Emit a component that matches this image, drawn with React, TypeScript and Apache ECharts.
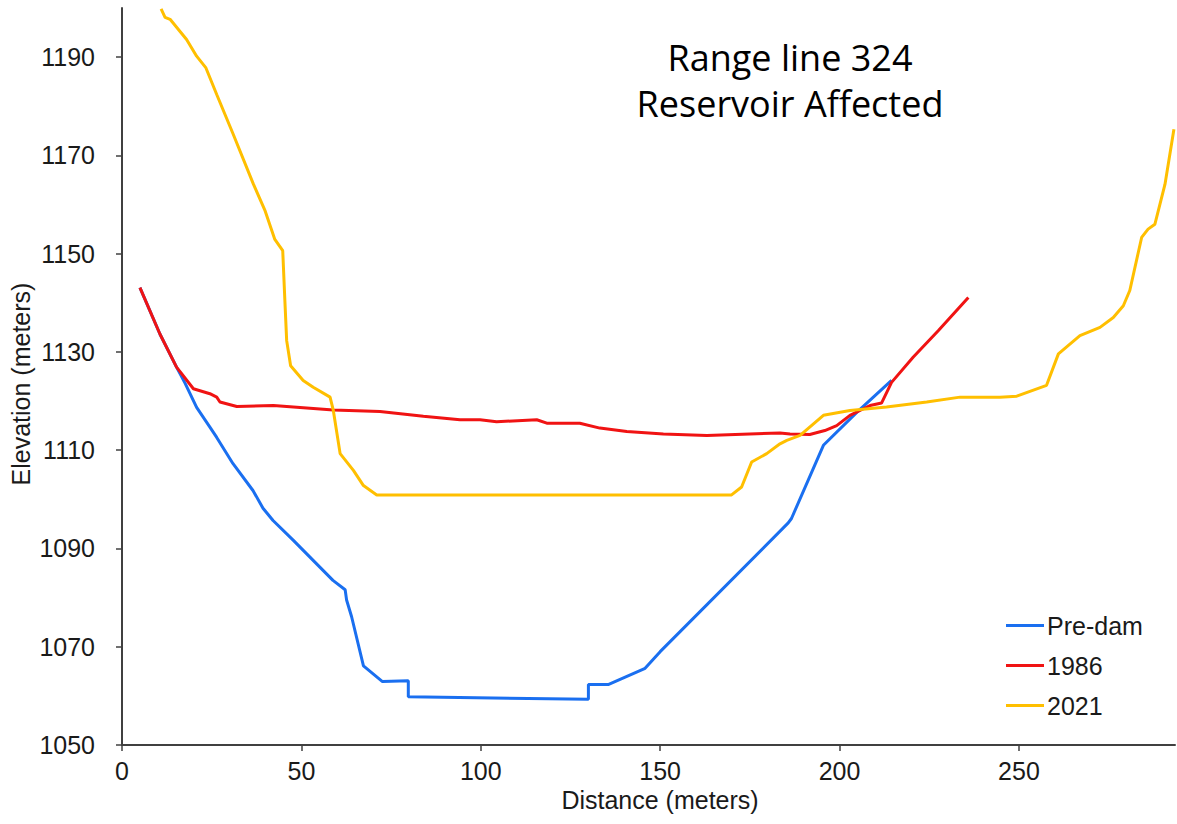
import React, { useEffect, useRef } from "react";
import * as echarts from "echarts";

// ---- Data ----
const seriesNames = ["Pre-dam", "1986", "2021"];
const seriesColors = ["#1a6ff0", "#f01313", "#ffbf00"];

const preDamX = [5, 10.6, 15.2, 17.6, 20.8, 24.5, 26.4, 30.9, 36.5, 39.3, 42.1, 47.7, 58.8, 62.2, 62.6, 64.0, 67.3, 72.6, 79.8, 79.8, 130, 130, 135.5, 145.8, 150, 185.7, 186.6, 195.5, 204.8, 214.5];
const preDamY = [1143.1, 1133.6, 1126.9, 1123.6, 1118.7, 1114.7, 1112.6, 1107.3, 1101.8, 1098.2, 1095.7, 1091.7, 1083.5, 1081.6, 1079.5, 1076.1, 1066.1, 1062.9, 1063.1, 1059.8, 1059.3, 1062.3, 1062.3, 1065.6, 1069, 1095.2, 1096.1, 1111, 1117.7, 1124.2];

const y1986X = [5, 10.6, 15.2, 19.9, 24.5, 26.4, 27.3, 32, 42.2, 58.9, 71.9, 84, 94.2, 99.8, 104.4, 115.6, 118.4, 127.6, 133.2, 140.7, 150.9, 163, 183.4, 186.2, 191.7, 195.9, 199.2, 202.9, 208.5, 211.7, 214.5, 220.5, 227.5, 235.9];
const y1986Y = [1143.1, 1133.6, 1126.9, 1122.5, 1121.5, 1120.8, 1119.8, 1118.9, 1119.1, 1118.2, 1117.9, 1116.9, 1116.2, 1116.2, 1115.8, 1116.2, 1115.5, 1115.5, 1114.5, 1113.8, 1113.3, 1113, 1113.5, 1113.3, 1113.2, 1114, 1115, 1117.1, 1119.1, 1119.6, 1123.8, 1128.9, 1134.3, 1141.1];

const y2021X = [10.9, 12, 13.4, 18, 20.8, 23.4, 26.4, 31, 36.6, 39.9, 42.6, 44.8, 45.4, 45.9, 47, 50.5, 53.3, 58, 58.9, 60.8, 64.5, 67.3, 71, 169.9, 172.7, 175.5, 179.7, 183.4, 185.3, 189, 195.5, 202.9, 213.1, 224.3, 233.6, 244.7, 249.4, 257.7, 261, 267, 272.6, 276.3, 279.1, 280.9, 284.2, 286, 287.9, 290.7, 293.2];
const y2021Y = [1199.8, 1198.1, 1197.7, 1193.6, 1190.2, 1187.8, 1182.4, 1174.3, 1164.2, 1158.7, 1152.9, 1150.6, 1140.4, 1132.3, 1127.2, 1124.2, 1122.8, 1120.8, 1118.1, 1109.3, 1105.9, 1102.8, 1100.9, 1100.9, 1102.5, 1107.6, 1109.3, 1111.3, 1112, 1113, 1117.1, 1118.1, 1118.8, 1119.8, 1120.8, 1120.8, 1121, 1123.2, 1129.6, 1133.3, 1135, 1137, 1139.4, 1142.5, 1153.3, 1155, 1156, 1164.1, 1175.3];

const xTicks = [0, 50, 100, 150, 200, 250];
const yTicks = [1050, 1070, 1090, 1110, 1130, 1150, 1170, 1190];
const xMin = 0;
const xMax = 293.5;
const yMin = 1050;
const yMax = 1200;

const titleLines = ["Range line 324", "Reservoir Affected"];
const xAxisTitle = "Distance (meters)";
const yAxisTitle = "Elevation (meters)";

const pairs = (xs: number[], ys: number[]) => xs.map((x, i) => [x, ys[i]]);

export default function App() {
  const ref = useRef<HTMLDivElement>(null);

  useEffect(() => {
    if (!ref.current) return;
    const chart = echarts.init(ref.current, null, { renderer: "svg" });
    const axisColor = "#404040";
    const labelFont = "'Liberation Sans', Arial, sans-serif";
    const allX = [preDamX, y1986X, y2021X];
    const allY = [preDamY, y1986Y, y2021Y];

    chart.setOption({
      animation: false,
      backgroundColor: "#ffffff",
      grid: { left: 122, right: 2, top: 8, bottom: 79, containLabel: false, outerBoundsMode: "none" },
      xAxis: {
        type: "value",
        min: xMin,
        max: xMax,
        splitLine: { show: false },
        axisLine: { show: true, onZero: false, lineStyle: { color: axisColor, width: 2 } },
        axisTick: { show: true, length: 6, lineStyle: { color: axisColor, width: 1.5 }, customValues: xTicks },
        axisLabel: {
          customValues: xTicks,
          formatter: (v: number) => String(v),
          margin: 13,
          color: "#1a1a1a",
          fontSize: 25,
          fontFamily: labelFont,
        },
      },
      yAxis: {
        type: "value",
        min: yMin,
        max: yMax,
        splitLine: { show: false },
        axisLine: { show: true, onZero: false, lineStyle: { color: axisColor, width: 2 } },
        axisTick: { show: true, length: 6, lineStyle: { color: axisColor, width: 1.5 }, customValues: yTicks },
        axisLabel: {
          customValues: yTicks,
          formatter: (v: number) => String(v),
          margin: 27,
          color: "#1a1a1a",
          fontSize: 25,
          fontFamily: labelFont,
        },
      },
      legend: {
        orient: "vertical",
        left: 1001,
        top: 608,
        itemWidth: 38,
        itemHeight: 3,
        itemGap: 15,
        selectedMode: false,
        icon: "rect",
        textStyle: { fontSize: 25, color: "#1a1a1a", fontFamily: labelFont, padding: [0, 0, 0, -2] },
        data: seriesNames,
      },
      series: seriesNames.map((name, i) => ({
        name,
        type: "line",
        data: pairs(allX[i], allY[i]),
        symbol: "none",
        showSymbol: false,
        smooth: false,
        lineStyle: { color: seriesColors[i], width: 3 },
        itemStyle: { color: seriesColors[i] },
        z: 2 + i,
      })),
      graphic: [
        {
          type: "text",
          x: 790,
          y: 57,
          style: {
            text: titleLines[0],
            fontSize: 36,
            fontFamily: "'Open Sans', sans-serif",
            fill: "#000",
            align: "center",
            verticalAlign: "middle",
          },
        },
        {
          type: "text",
          x: 790,
          y: 103,
          style: {
            text: titleLines[1],
            fontSize: 36,
            fontFamily: "'Open Sans', sans-serif",
            fill: "#000",
            align: "center",
            verticalAlign: "middle",
          },
        },
        {
          type: "text",
          x: 660,
          y: 800,
          style: {
            text: xAxisTitle,
            fontSize: 25,
            fontFamily: labelFont,
            fill: "#1a1a1a",
            align: "center",
            verticalAlign: "middle",
          },
        },
        {
          type: "text",
          x: 21,
          y: 384,
          rotation: Math.PI / 2,
          style: {
            text: yAxisTitle,
            fontSize: 25,
            fontFamily: labelFont,
            fill: "#1a1a1a",
            align: "center",
            verticalAlign: "middle",
          },
        },
      ],
    });

    return () => chart.dispose();
  }, []);

  return (
    <div
      ref={ref}
      style={{ position: "absolute", left: 0, top: 0, width: 1177, height: 824, background: "#fff" }}
    />
  );
}
